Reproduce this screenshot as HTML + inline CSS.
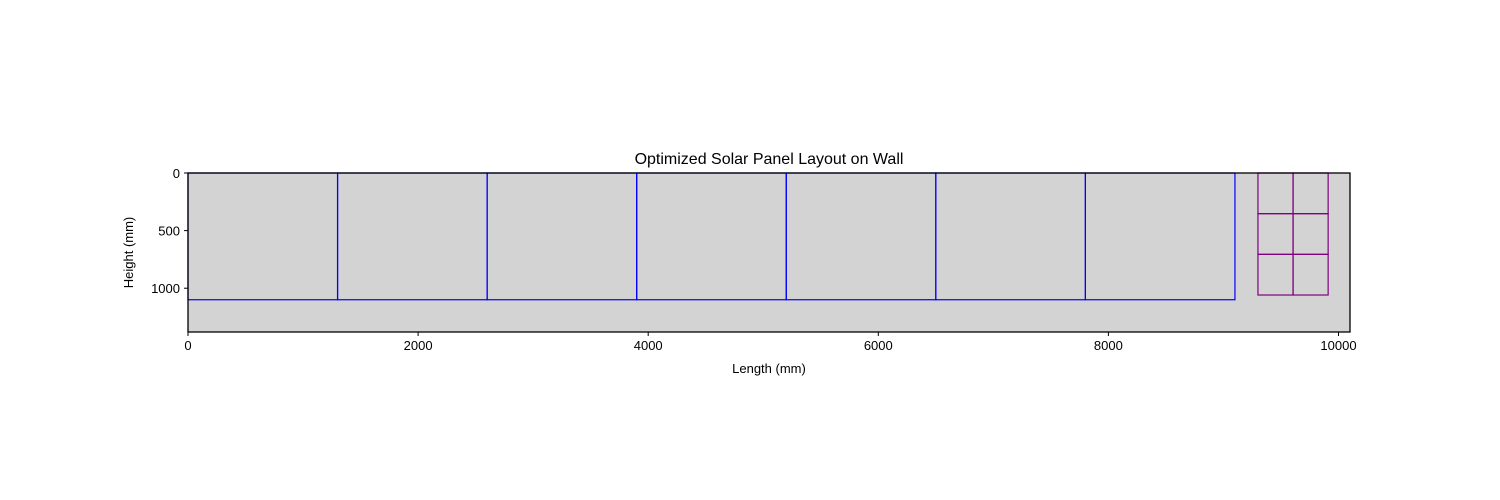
<!DOCTYPE html>
<html><head><meta charset="utf-8"><style>body{margin:0;background:#fff}svg{display:block}text{font-family:"Liberation Sans","DejaVu Sans",sans-serif;font-size:13px;fill:#000}</style></head>
<body>
<svg id="chart" width="1500" height="500" xmlns="http://www.w3.org/2000/svg"></svg>
<script>
const xTicks=[0,2000,4000,6000,8000,10000];
const yTicks=[0,500,1000];
const wallLength=10100, wallHeight=1380;
const bigPanelX=[0,1300,2600,3900,5200,6500,7800];
const bigPanelW=[1300,1300,1300,1300,1300,1300,1300];
const bigPanelH=[1100,1100,1100,1100,1100,1100,1100];
const smallPanelX=[9300,9605,9300,9605,9300,9605];
const smallPanelY=[0,0,353,353,706,706];
const smallPanelW=[305,305,305,305,305,305];
const smallPanelH=[353,353,353,353,353,353];

const svg=document.getElementById('chart');
const L=188,R=1350,T=173,B=332;
const sx=v=>L+v/wallLength*(R-L);
const sy=v=>T+v/wallHeight*(B-T);
const NS='http://www.w3.org/2000/svg';
function mk(tag,attrs){const e=document.createElementNS(NS,tag);for(const k in attrs)e.setAttribute(k,attrs[k]);svg.appendChild(e);return e;}

const bg=mk('rect',{x:L,y:T,width:R-L,height:B-T,fill:'#d3d3d3'});



bigPanelX.forEach((x,i)=>{
  const r=mk('rect',{x:sx(x),y:sy(0),width:sx(x+bigPanelW[i])-sx(x),height:sy(bigPanelH[i])-sy(0),fill:'none',stroke:'#0000ff','stroke-width':1.2});
  
  
});
smallPanelX.forEach((x,i)=>{
  const y=smallPanelY[i];
  const r=mk('rect',{x:sx(x),y:sy(y),width:sx(x+smallPanelW[i])-sx(x),height:sy(y+smallPanelH[i])-sy(y),fill:'none',stroke:'#800080','stroke-width':1.2});
  
  
});

const frame=mk('rect',{x:L,y:T,width:R-L,height:B-T,fill:'none',stroke:'#000','stroke-width':1.3});



xTicks.forEach(v=>{
  const X=sx(v);
  const t=mk('line',{x1:X,y1:B,x2:X,y2:B+4,stroke:'#000'});
  
  
  const l=mk('text',{x:X,y:B+18,'text-anchor':'middle'});
  l.textContent=v;
  
  
});
yTicks.forEach(v=>{
  const Y=sy(v);
  const t=mk('line',{x1:L-4,y1:Y,x2:L,y2:Y,stroke:'#000'});
  
  
  const l=mk('text',{x:L-8,y:Y+5,'text-anchor':'end'});
  l.textContent=v;
  
  
});

const title=mk('text',{x:(L+R)/2,y:164,'text-anchor':'middle',style:'font-size:16px'});
title.textContent='Optimized Solar Panel Layout on Wall';


const xl=mk('text',{x:(L+R)/2,y:373,'text-anchor':'middle'});
xl.textContent='Length (mm)';


const yl=mk('text',{x:0,y:0,'text-anchor':'middle',transform:`translate(133,${(T+B)/2}) rotate(-90)`});
yl.textContent='Height (mm)';


</script>
</body></html>
